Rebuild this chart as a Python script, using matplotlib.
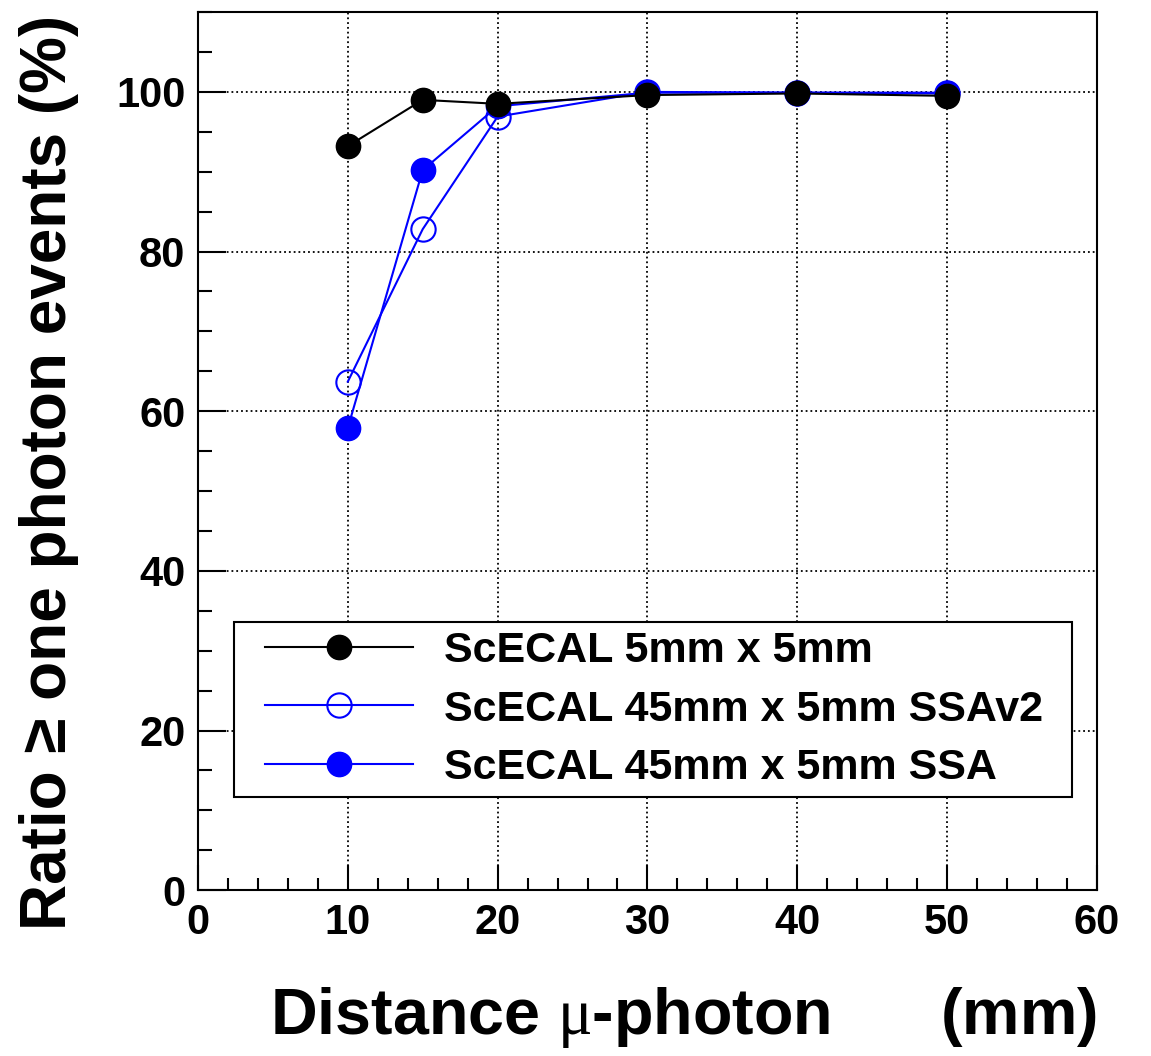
import matplotlib
matplotlib.use("Agg")
import matplotlib.pyplot as plt
from matplotlib.ticker import MultipleLocator
from matplotlib.legend_handler import HandlerLine2D

plt.rcParams['font.family'] = ['Liberation Sans Narrow', 'Liberation Sans', 'DejaVu Sans']
plt.rcParams['font.weight'] = 'bold'
plt.rcParams['mathtext.fontset'] = 'custom'
plt.rcParams['mathtext.rm'] = 'Liberation Serif:normal'

# data
distance = [10, 15, 20, 30, 40, 50]
sc_5x5 = [93.2, 99.0, 98.5, 99.6, 99.8, 99.5]
sc_45_ssav2 = [63.7, 82.8, 96.9, 100.0, 99.9, 99.9]
sc_45_ssa = [57.9, 90.2, 98.2, 99.9, 99.9, 99.8]
labels = ["ScECAL 5mm x 5mm", "ScECAL 45mm x 5mm SSAv2", "ScECAL 45mm x 5mm SSA"]

fig = plt.figure(figsize=(11.51, 10.56), dpi=100)
ax = fig.add_axes([0.172, 0.157, 0.781, 0.8316])

ms = 17.5
l3, = ax.plot(distance, sc_45_ssa, '-o', color='#0000ff', lw=1.5, ms=ms,
              markeredgecolor='#0000ff', label=labels[2], zorder=3)
l2, = ax.plot(distance, sc_45_ssav2, '-o', color='#0000ff', lw=1.5, ms=ms,
              markerfacecolor='none', markeredgecolor='#0000ff', markeredgewidth=1.5,
              label=labels[1], zorder=4)
l1, = ax.plot(distance, sc_5x5, '-o', color='black', lw=1.5, ms=ms,
              label=labels[0], zorder=5)

ax.set_xlim(0, 60)
ax.set_ylim(0, 110)
ax.xaxis.set_major_locator(MultipleLocator(10))
ax.xaxis.set_minor_locator(MultipleLocator(2))
ax.yaxis.set_major_locator(MultipleLocator(20))
ax.yaxis.set_minor_locator(MultipleLocator(5))
ax.tick_params(which='both', direction='in', width=1.5, labelsize=30,
               top=False, right=False)
ax.tick_params(axis='y', which='major', length=20, pad=9)
ax.tick_params(axis='y', which='minor', length=10)
ax.tick_params(axis='x', which='major', length=18, pad=9)
ax.tick_params(axis='x', which='minor', length=9)
for lab in ax.get_xticklabels() + ax.get_yticklabels():
    lab.set_fontweight('bold')
for s in ax.spines.values():
    s.set_linewidth(1.5)

ax.grid(True, which='major', linestyle=':', color='black', lw=1.3)
ax.set_axisbelow(True)

hl = HandlerLine2D(xpad=0.51)
leg = ax.legend(handles=[l1, l2, l3], loc='lower left',
                bbox_to_anchor=(0.04, 0.106, 0.932, 0.2), mode='expand',
                prop={'weight': 'bold', 'size': 31},
                handler_map={l1: hl, l2: hl, l3: hl},
                fancybox=False, framealpha=1, edgecolor='black',
                handlelength=3.93, handletextpad=0.72, labelspacing=0.42,
                borderpad=0.22, borderaxespad=0)
leg.get_frame().set_linewidth(1.5)

fig.text(0.043, 0.553, "Ratio \u2265 one photon events (%)", rotation=90,
         ha='center', va='center', fontsize=46, fontweight='bold')
fig.text(0.953, 0.036, r"Distance $\mathrm{\mu}$-photon      (mm)",
         ha='right', va='center', fontsize=46.5, fontweight='bold')

fig.savefig("out.png", dpi=100)
